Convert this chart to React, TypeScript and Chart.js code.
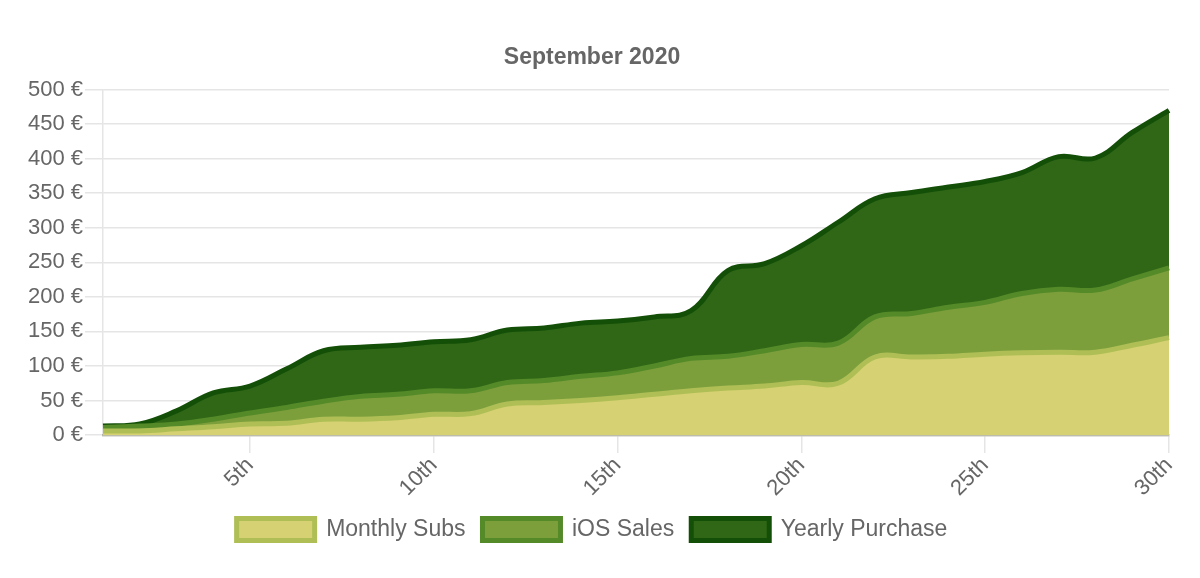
import React, { useEffect, useRef } from "react";
import { Chart, registerables } from "chart.js";

Chart.register(...registerables);

const dayLabels = [
  "1st", "2nd", "3rd", "4th", "5th", "6th", "7th", "8th", "9th", "10th",
  "11th", "12th", "13th", "14th", "15th", "16th", "17th", "18th", "19th", "20th",
  "21st", "22nd", "23rd", "24th", "25th", "26th", "27th", "28th", "29th", "30th",
];

const monthlySubs = [6, 6, 9, 12, 16, 17, 23, 23, 25, 30, 31, 45, 47, 50, 54, 59, 64, 68, 71, 76, 75, 113, 113, 114, 117, 119, 120, 120, 130, 141];
const iosSales = [5, 7, 7, 11, 16, 23, 26, 33, 34, 34, 33, 31, 32, 35, 36, 41, 47, 46, 51, 55, 58, 58, 63, 71, 75, 86, 91, 90, 96, 101];
const yearlyPurchase = [2, 3, 19, 38, 39, 56, 73, 71, 71, 71, 74, 76, 76, 77, 75, 71, 69, 124, 126, 143, 175, 171, 175, 174, 175, 175, 192, 191, 212, 228];

const titleText = "September 2020";
const seriesNames = ["Monthly Subs", "iOS Sales", "Yearly Purchase"];

const FONT = "'Liberation Sans', Arial, Helvetica, sans-serif";

export default function App() {
  const ref = useRef<HTMLCanvasElement | null>(null);

  useEffect(() => {
    if (!ref.current) return;
    const chart = new Chart(ref.current, {
      type: "line",
      data: {
        labels: dayLabels,
        datasets: [
          {
            label: seriesNames[0],
            data: monthlySubs,
            backgroundColor: "#d6d172",
            borderColor: "#afbf56",
            borderWidth: 5,
            fill: "origin",
            tension: 0.4,
            pointRadius: 0,
          },
          {
            label: seriesNames[1],
            data: iosSales,
            backgroundColor: "#7c9f3c",
            borderColor: "#558a29",
            borderWidth: 5,
            fill: "-1",
            tension: 0.4,
            pointRadius: 0,
          },
          {
            label: seriesNames[2],
            data: yearlyPurchase,
            backgroundColor: "#2f6716",
            borderColor: "#134f07",
            borderWidth: 5,
            fill: "-1",
            tension: 0.4,
            pointRadius: 0,
          },
        ],
      },
      options: {
        animation: false,
        responsive: true,
        maintainAspectRatio: false,
        layout: { padding: { top: 18, left: 0, right: 0, bottom: 27 } },
        plugins: {
          title: {
            display: true,
            text: titleText,
            color: "#666",
            font: { family: FONT, size: 23, weight: "bold" },
            padding: { top: 18, bottom: 18 },
          },
          legend: {
            position: "bottom",
            labels: {
              color: "#666",
              font: { family: FONT, size: 23 },
              boxWidth: 78,
              boxHeight: 22,
              padding: 17,
            },
          },
          tooltip: { enabled: false },
        },
        scales: {
          x: {
            stacked: true,
            grid: {
              color: "rgba(0,0,0,0.1)",
              lineWidth: 1.5,
              tickLength: 18,
              drawOnChartArea: false,
            },
            border: { color: "rgba(90,90,40,0.35)", width: 2.5 },
            ticks: {
              color: "#666",
              font: { family: FONT, size: 22 },
              autoSkip: false,
              minRotation: 45,
              maxRotation: 45,
              padding: -0.5,
              callback: (_v: any, i: number) => ((i + 1) % 5 === 0 ? dayLabels[i] : null),
            },
            afterFit: (scale: any) => {
              scale.paddingRight = 7;
            },
          },
          y: {
            stacked: true,
            min: 0,
            max: 500,
            grid: {
              color: "rgba(0,0,0,0.1)",
              lineWidth: 1.5,
              tickLength: 18,
            },
            border: { color: "rgba(0,0,0,0.1)", width: 1.5 },
            ticks: {
              stepSize: 50,
              color: "#666",
              font: { family: FONT, size: 22 },
              padding: 2,
              callback: (v: any) => v + " €",
            },
            afterFit: (scale: any) => {
              scale.width = 95;
            },
          },
        },
      },
    });
    return () => chart.destroy();
  }, []);

  return (
    <div style={{ width: 1168, height: 570 }}>
      <canvas ref={ref} />
    </div>
  );
}
